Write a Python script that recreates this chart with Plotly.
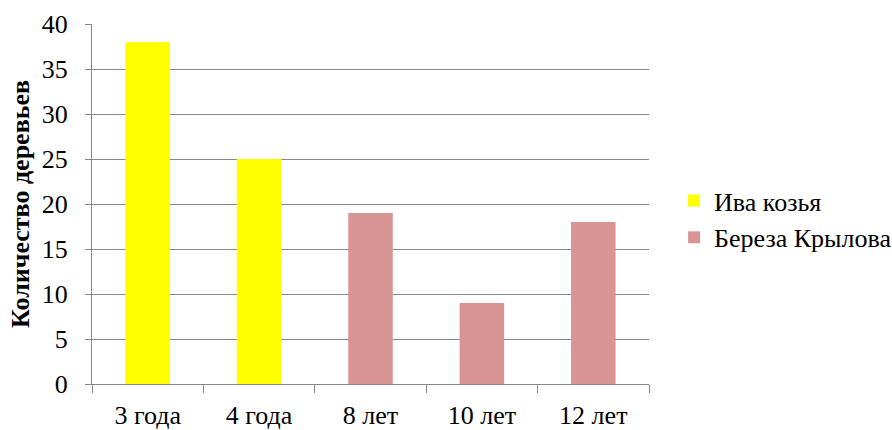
import plotly.graph_objects as go

# Age groups and tree counts for each species
iva_ages = ["3 года", "4 года"]
iva_counts = [38, 25]
bereza_ages = ["8 лет", "10 лет", "12 лет"]
bereza_counts = [19, 9, 18]
all_ages = iva_ages + bereza_ages

y_ticks = [0, 5, 10, 15, 20, 25, 30, 35, 40]

FONT = "Times New Roman, Liberation Serif, DejaVu Serif, serif"
FS = 26

fig = go.Figure()
fig.add_trace(go.Bar(x=iva_ages, y=iva_counts, name="Ива козья",
                     marker=dict(color="#FFFF00", line=dict(width=0))))
fig.add_trace(go.Bar(x=bereza_ages, y=bereza_counts, name="Береза Крылова",
                     marker=dict(color="#D99594", line=dict(width=0))))

fig.update_layout(
    template="none",
    width=892, height=430,
    margin=dict(l=92, r=243, t=24, b=46, autoexpand=False),
    paper_bgcolor="white", plot_bgcolor="white",
    barmode="overlay", bargap=0.6,
    font=dict(family=FONT, size=FS, color="black"),
    showlegend=True,
    legend=dict(x=1.045, y=0.458, xanchor="left", yanchor="middle",
                font=dict(family=FONT, size=FS), tracegroupgap=7, itemwidth=30,
                bgcolor="rgba(0,0,0,0)"),
)
fig.update_xaxes(
    automargin=False,
    categoryorder="array", categoryarray=all_ages,
    showline=True, linecolor="#888888", linewidth=1,
    ticks="outside", tickson="boundaries", ticklen=8, tickcolor="#888888",
    ticklabelstandoff=8,
    tickfont=dict(family=FONT, size=FS),
    showgrid=False, zeroline=False,
)
fig.update_yaxes(
    automargin=False,
    range=[0, 40], tickvals=y_ticks,
    showline=True, linecolor="#888888", linewidth=1,
    ticks="outside", ticklen=6, tickcolor="#888888",
    ticklabelstandoff=12,
    tickfont=dict(family=FONT, size=FS),
    showgrid=True, gridcolor="#888888", gridwidth=1,
    zeroline=False,
    title=dict(text="<b>Количество деревьев</b>",
               font=dict(family=FONT, size=26), standoff=4),
)

fig.write_html("out.html")
